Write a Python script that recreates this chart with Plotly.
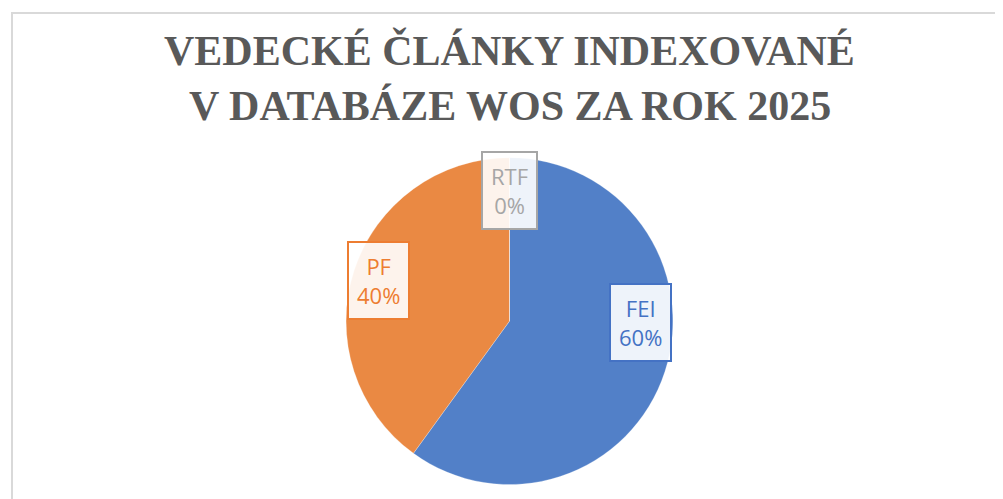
import math
import plotly.graph_objects as go

# Data
labels = ["FEI", "PF", "RTF"]
values = [60, 40, 0]
colors = ["#5280C8", "#EA8943", "#A5A5A5"]
text_colors = ["#4472C4", "#ED7D31", "#A6A6A6"]
title_lines = ["VEDECKÉ ČLÁNKY INDEXOVANÉ", "V DATABÁZE WOS ZA ROK 2025"]

W, H = 1003, 499
dom_x = [0.0, 1.0]
dom_y = [0.045, 0.70]

fig = go.Figure(go.Pie(
    labels=labels,
    values=values,
    sort=False,
    direction="clockwise",
    rotation=0,
    marker=dict(colors=colors, line=dict(color="rgba(255,255,255,0.25)", width=1)),
    textinfo="none",
    hoverinfo="label+percent",
    showlegend=False,
    domain=dict(x=dom_x, y=dom_y),
))

# Data labels derived from slice mid-angles
total = sum(values)
R_px = min((dom_x[1] - dom_x[0]) * W, (dom_y[1] - dom_y[0]) * H) / 2
cx = (dom_x[0] + dom_x[1]) / 2
cy = (dom_y[0] + dom_y[1]) / 2
cum = 0
annotations = []
for lab, v, tc in zip(labels, values, text_colors):
    mid = (cum + v / 2) / total * 2 * math.pi
    cum += v
    x = cx + 0.84 * R_px * math.sin(mid) / W
    y = cy + 0.80 * R_px * math.cos(mid) / H
    pct = round(v / total * 100)
    annotations.append(dict(
        x=x, y=y, xref="paper", yref="paper",
        text=f"{lab}<br>{pct}%", showarrow=False,
        font=dict(family="Open Sans", size=22, color=tc),
        bgcolor="rgba(255,255,255,0.9)",
        bordercolor=tc, borderwidth=2, borderpad=8,
        align="center",
    ))

title_font = dict(family="Liberation Serif", size=42, color="#595959", weight="bold")
for i, line in enumerate(title_lines):
    annotations.append(dict(
        x=0.5, y=1 - (43 + 55 * i) / H, xref="paper", yref="paper",
        xanchor="center", yanchor="middle", showarrow=False,
        text=line, font=title_font,
    ))

fig.update_layout(
    width=W, height=H,
    margin=dict(l=0, r=0, t=0, b=0),
    paper_bgcolor="white",
    annotations=annotations,
    shapes=[dict(type="rect", xref="paper", yref="paper", x0=0.004, y0=0.008, x1=0.997, y1=0.99,
                 line=dict(color="#D9D9D9", width=2))],
)

fig.write_html("out.html")
